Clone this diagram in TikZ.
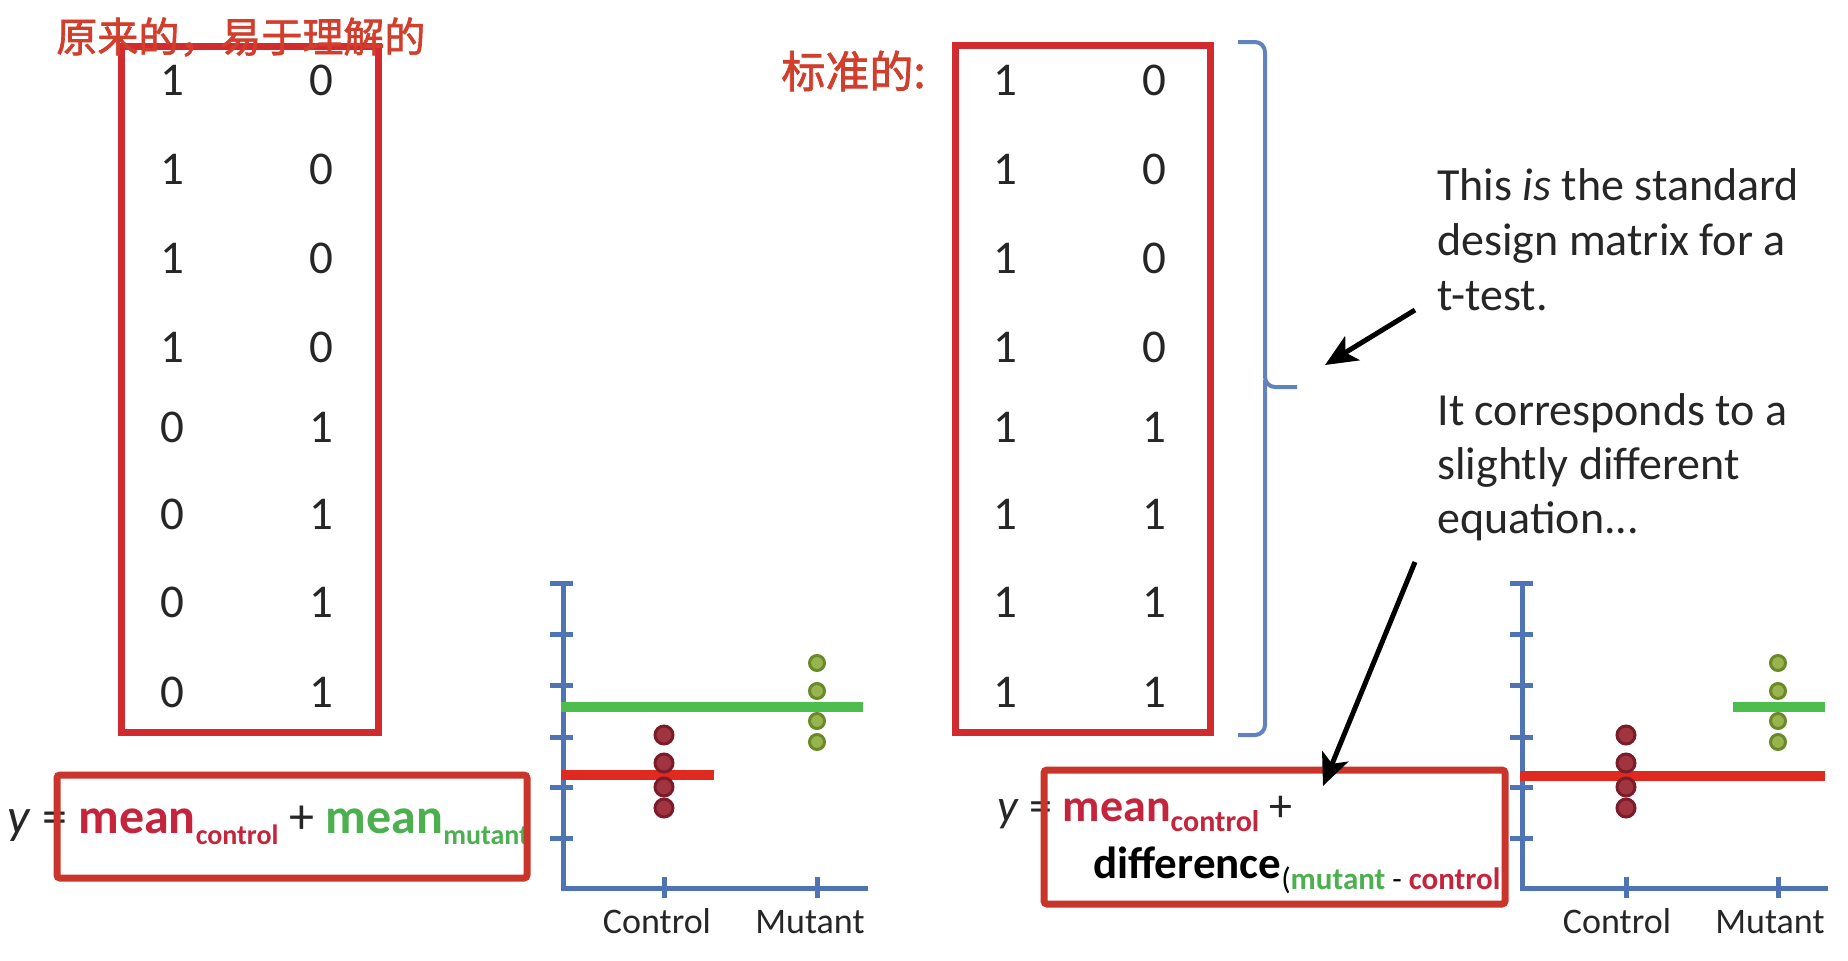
\documentclass[tikz,border=0pt]{standalone}
\usepackage{fontspec}
\setmainfont{Carlito}
\newfontfamily\cjkfont{Noto Sans CJK SC}[FakeBold=1.6]
\usetikzlibrary{arrows.meta}
\definecolor{matred}{HTML}{D12B2F}
\definecolor{boxred}{HTML}{C9352A}
\definecolor{cjkred}{HTML}{D23E2C}
\definecolor{meanred}{HTML}{C4243C}
\definecolor{meangreen}{HTML}{4DB050}
\definecolor{axisblue}{HTML}{4F74B6}
\definecolor{barred}{HTML}{E0291F}
\definecolor{bargreen}{HTML}{4DBE4D}
\definecolor{dotred}{HTML}{7A1C2A}
\definecolor{dotredlight}{HTML}{A0343F}
\definecolor{dotgreen}{HTML}{6A8A2A}
\definecolor{dotgreenlight}{HTML}{98B44E}
\definecolor{ink}{HTML}{262626}
\newcommand\fs[1]{\fontsize{#1pt}{#1pt}\selectfont}
\newcommand\lowsub[3]{\raisebox{-#1pt}{\fs{#2}#3}}
\begin{document}
\begin{tikzpicture}[x=0.5pt,y=-0.5pt,
  matbox/.style={draw=matred, line width=3.5pt},
  eqbox/.style={draw=boxred, line width=3.5pt, rounded corners=1.5pt},
  digit/.style={text=ink, font=\fs{23.5}, inner sep=0pt},
  note/.style={anchor=base west, inner sep=0pt, text=ink, font=\fs{23}},
  cjklabel/.style={anchor=west, inner sep=0pt, text=cjkred},
  axisline/.style={draw=axisblue, line width=2.5pt},
  bar/.style={line width=5pt},
  reddot/.style={circle, fill=dotredlight, draw=dotred, line width=1.5pt, minimum size=9pt, inner sep=0pt},
  greendot/.style={circle, fill=dotgreenlight, draw=dotgreen, line width=1.5pt, minimum size=7.5pt, inner sep=0pt},
  chartlabel/.style={anchor=base, inner sep=0pt, text=ink, font=\fs{18}},
  bracketline/.style={draw=axisblue!90!white, line width=2pt},
  pointer/.style={draw=black, line width=2.5pt, -{Stealth[length=16pt, width=14pt, inset=4pt]}}
]
\useasboundingbox (0,0) rectangle (1848,960);
\fill[white] (0,0) rectangle (1848,960);

% ---------- matrices ----------
\draw[matbox] (121,46) rectangle (378,732);
\draw[matbox] (955,45) rectangle (1210,732);

\foreach \y/\a/\b/\c/\d [count=\i] in {80/1/0/1/0, 169/1/0/1/0, 258/1/0/1/0, 347/1/0/1/0,
                                      427/0/1/1/1, 514/0/1/1/1, 602/0/1/1/1, 692/0/1/1/1}{
  \node[digit] (La\i) at (172,\y) {\a};
  \node[digit] (Lb\i) at (321,\y) {\b};
  \node[digit] (Ra\i) at (1005,\y) {\c};
  \node[digit] (Rb\i) at (1154,\y) {\d};
}

% ---------- titles ----------
\node[cjklabel, font=\cjkfont\fs{20.5}] (titleL) at (56,37) {原来的，易于理解的};
\node[cjklabel, font=\cjkfont\fs{22}] (titleR) at (781,71) {标准的:};

% ---------- bracket ----------
\draw[bracketline, rounded corners=5pt] (1238,42) -| (1265,387) -- (1297,387);
\draw[bracketline, rounded corners=5pt] (1265,380) |- (1238,735);

% ---------- notes ----------
\node[note] (n1) at (1437,200) {This \textit{is} the standard};
\node[note] (n2) at (1437,255) {design matrix for a};
\node[note] (n3) at (1437,310) {t-test.};
\node[note] (n4) at (1437,425) {It corresponds to a};
\node[note] (n5) at (1437,479) {slightly different};
\node[note] (n6) at (1437,533) {equation...};

% ---------- equations ----------
\node[anchor=base west, inner sep=0pt, text=ink] (eqL) at (7,833)
  {\fs{25}\textit{y} = \textbf{\textcolor{meanred}{mean\lowsub{5.5}{14}{control}}} + \textbf{\textcolor{meangreen}{mean\lowsub{5.5}{14}{mutant}}}};
\draw[eqbox] (57,775) rectangle (527,878);

\node[anchor=base west, inner sep=0pt, text=ink] (eqR1) at (997,821)
  {\fs{23}\textit{y} = \textbf{\textcolor{meanred}{mean\lowsub{5}{15}{control}}} +};
\node[anchor=base west, inner sep=0pt, text=black] (eqR2) at (1093,878)
  {\fs{22.5}\textbf{difference}\lowsub{5.5}{15.5}{(\textbf{\textcolor{meangreen}{mutant}} - \textbf{\textcolor{meanred}{control}})}};
\draw[eqbox] (1044,770) rectangle (1505,904);

% ---------- left chart ----------
\foreach \t in {583,634,685,737,787,838} \draw[axisline] (550,\t) -- (573,\t);
\draw[axisline] (563,583) -- (563,888) -- (868,888);
\draw[axisline] (664,877) -- (664,898);
\draw[axisline] (817,877) -- (817,898);
\draw[bar, draw=bargreen] (561,707) -- (863,707);
\draw[bar, draw=barred] (561,775) -- (714,775);
\foreach \y [count=\i] in {735,763,787,808} \node[reddot] (lr\i) at (664,\y) {};
\foreach \y [count=\i] in {663,691,721,742} \node[greendot] (lg\i) at (817,\y) {};
\node[chartlabel] (lc) at (657,933) {Control};
\node[chartlabel] (lm) at (810,933) {Mutant};

% ---------- right chart ----------
\foreach \t in {583,634,685,737,787,838} \draw[axisline] (1510,\t) -- (1533,\t);
\draw[axisline] (1522,583) -- (1522,888) -- (1828,888);
\draw[axisline] (1626,877) -- (1626,898);
\draw[axisline] (1778,877) -- (1778,898);
\draw[bar, draw=bargreen] (1733,707) -- (1825,707);
\draw[bar, draw=barred] (1520,776) -- (1825,776);
\foreach \y [count=\i] in {735,763,787,808} \node[reddot] (rr\i) at (1626,\y) {};
\foreach \y [count=\i] in {663,691,721,742} \node[greendot] (rg\i) at (1778,\y) {};
\node[chartlabel] (rc) at (1617,933) {Control};
\node[chartlabel] (rm) at (1770,933) {Mutant};

% ---------- arrows ----------
\coordinate (a1s) at (1415,310);
\coordinate (a1e) at (1325,365);
\coordinate (a2s) at (1415,562);
\coordinate (a2e) at (1323,786);
\draw[pointer] (a1s) -- (a1e);
\draw[pointer] (a2s) -- (a2e);
\end{tikzpicture}
\end{document}
